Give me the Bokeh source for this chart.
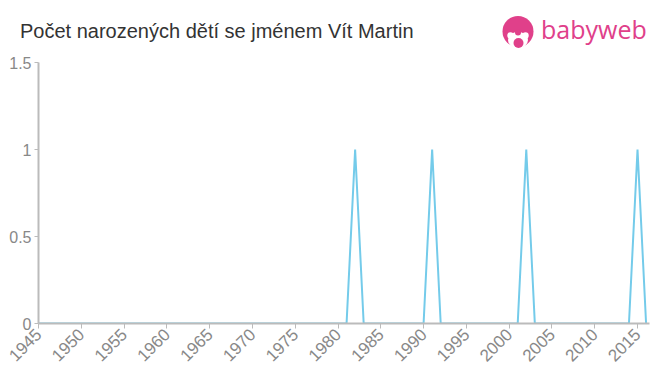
from bokeh.plotting import figure
from bokeh.layouts import column
from bokeh.models import Range1d, FixedTicker, Div
from bokeh.embed import file_html
from bokeh.resources import INLINE

years = list(range(1945, 2017))
peak_years = [1982, 1991, 2002, 2015]
counts = [1 if y in peak_years else 0 for y in years]

x_ticks = list(range(1945, 2016, 5))
y_ticks = [0, 0.5, 1, 1.5]
y_labels = {0: "0", 0.5: "0.5", 1: "1", 1.5: "1.5"}

title = "Počet narozených dětí se jménem Vít Martin"
brand = "babyweb"
FONT = "Liberation Sans"
PINK = "#e0408a"

W = 660
L, R = 38, 11
HEAD_H = 54

icon_svg = (
    f'<svg width="40" height="40" viewBox="498 12 40 40" '
    f'style="position:absolute;left:498px;top:12px;overflow:visible">'
    f'<circle cx="518" cy="31.5" r="15.5" fill="{PINK}"/>'
    f'<ellipse cx="518" cy="40" rx="10" ry="8" fill="white"/>'
    f'<circle cx="510.5" cy="35.5" r="3.2" fill="white"/>'
    f'<circle cx="525.5" cy="35.5" r="3.2" fill="white"/>'
    f'<circle cx="518" cy="32.5" r="3" fill="{PINK}"/>'
    f'<circle cx="518.5" cy="43" r="5" fill="{PINK}"/>'
    f'</svg>'
)

head_html = (
    f'<div style="position:relative;width:{W}px;height:{HEAD_H}px;overflow:visible">'
    f'<span style="position:absolute;left:20px;top:21px;font-family:\'{FONT}\';font-size:20px;'
    f'line-height:20px;color:#333333;white-space:nowrap">{title}</span>'
    f'{icon_svg}'
    f'<span style="position:absolute;left:541px;top:17px;font-family:\'Open Sans\';font-size:25px;'
    f'line-height:25px;color:{PINK};white-space:nowrap">{brand}</span>'
    f'</div>'
)
head = Div(text=head_html, width=W, height=HEAD_H, margin=0)

# main chart
p = figure(width=W, height=375 - HEAD_H, output_backend="svg", toolbar_location=None,
           x_range=Range1d(1945, 2016.4), y_range=Range1d(0, 1.5), margin=0,
           min_border_left=L, min_border_right=R, min_border_top=62 - HEAD_H, min_border_bottom=52)
p.outline_line_color = None
p.xgrid.grid_line_color = None
p.ygrid.grid_line_color = None

p.line(years, counts, line_color="#74cbea", line_width=2)

for ax in (p.xaxis[0], p.yaxis[0]):
    ax.axis_line_color = "#bbbbbb"
    ax.axis_line_width = 2
    ax.major_tick_line_color = "#bbbbbb"
    ax.major_tick_line_width = 1
    ax.minor_tick_line_color = None
    ax.major_tick_in = 0
    ax.major_tick_out = 5
    ax.major_label_text_color = "#888888"
    ax.major_label_text_font = FONT
    ax.major_label_text_font_size = "16px"

p.xaxis.ticker = FixedTicker(ticks=x_ticks)
p.xaxis.major_label_orientation = 0.785
p.xaxis.major_label_standoff = 3
p.xaxis.major_label_text_font_size = "17px"
p.yaxis.ticker = FixedTicker(ticks=y_ticks)
p.yaxis.major_label_overrides = y_labels
p.yaxis.major_label_standoff = 3
p.yaxis.major_tick_out = 4

layout = column(head, p, spacing=0, margin=0)
open("out.html", "w").write(file_html(layout, INLINE))
